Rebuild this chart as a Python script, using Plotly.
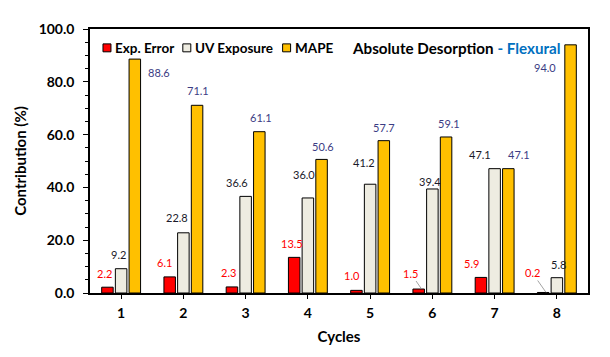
import plotly.graph_objects as go

cycles = ["1", "2", "3", "4", "5", "6", "7", "8"]
exp_error = [2.2, 6.1, 2.3, 13.5, 1.0, 1.5, 5.9, 0.2]
uv_exposure = [9.2, 22.8, 36.6, 36.0, 41.2, 39.4, 47.1, 5.8]
mape = [88.6, 71.1, 61.1, 50.6, 57.7, 59.1, 47.1, 94.0]

# label placement (pixel offsets from bar top-centre: dx, up)
exp_off = [(-3, 14), (-5, 14), (-3, 14), (-2, 14), (-4, 15), (-8, 16), (-9, 14), (-11, 20)]
exp_leader = [False, False, False, False, False, True, False, True]
uv_off = [(-3, 14), (-6, 15), (-9, 14), (-4, 23), (-6, 22), (-2, 7), (-15, 14), (2, 13)]
mape_off = [(24, -13), (1, 15), (2, 14), (1, 13), (0, 13), (3, 13), (11, 14), (-26, -23)]

FONT = "Lato, 'Open Sans', sans-serif"
SLOT = 13.8  # px between neighbouring bars in a group
OFF = 8      # page body margin of the html
W, H = 610 - OFF, 357 - OFF
L, R, T, B = 89 - OFF, 22, 27 - OFF, 64
PW, PH = W - L - R, H - T - B

series = [
    ("Exp. Error", exp_error, "#FF0000", exp_off, "#FF0000", -SLOT),
    ("UV Exposure", uv_exposure, "#EEECE1", uv_off, "#1a1a2a", 0),
    ("MAPE", mape, "#FFC000", mape_off, "#3c3c84", SLOT),
]
legend_px = [102, 182, 282]  # left edge of each legend swatch (page px)


def px_x(p):
    return (p - OFF - L) / PW


def px_y(p):
    return (H - B - (p - OFF)) / PH


fig = go.Figure()
annotations = []
shapes = []
for k, (name, vals, color, offs, lcolor, shift) in enumerate(series):
    fig.add_trace(go.Bar(x=cycles, y=vals, name=name, marker_color=color,
                         marker_line=dict(color="black", width=1)))
    for i, v in enumerate(vals):
        dx, up = offs[i]
        if name == "Exp. Error" and exp_leader[i]:
            annotations.append(dict(x=i, y=v, xshift=shift + 3, text=f"{v:.1f}",
                showarrow=True, arrowhead=0, arrowwidth=0.8, arrowcolor="#8c8c8c",
                ax=dx - 3, ay=-up, standoff=0,
                font=dict(family=FONT, size=11, color=lcolor)))
        else:
            annotations.append(dict(x=i, y=v, text=f"{v:.1f}", showarrow=False,
                xshift=shift + dx, yshift=up, yanchor="middle",
                font=dict(family=FONT, size=11, color=lcolor)))
    # hand-made compact legend entry
    lx = legend_px[k]
    shapes.append(dict(type="rect", xref="paper", yref="paper",
        x0=px_x(lx), x1=px_x(lx + 8), y0=px_y(50), y1=px_y(42),
        fillcolor=color, line=dict(color="black", width=1)))
    annotations.append(dict(xref="paper", yref="paper", x=px_x(lx + 10), y=px_y(46),
        xanchor="left", yanchor="middle", showarrow=False, text=f"<b>{name}</b>",
        font=dict(family=FONT, size=13.5, color="black")))

annotations.append(dict(xref="paper", yref="paper", x=px_x(563), y=px_y(46),
    xanchor="right", yanchor="middle", showarrow=False,
    text="<b>Absolute Desorption</b> <b><span style='color:#0070C0'>- Flexural</span></b>",
    font=dict(family=FONT, size=15.2, color="black")))

fig.update_layout(
    width=W, height=H,
    margin=dict(l=L, r=R, t=T, b=B),
    paper_bgcolor="white", plot_bgcolor="white",
    barmode="group", bargap=0.34, bargroupgap=0.16,
    font=dict(family=FONT, color="black"),
    showlegend=False,
    annotations=annotations, shapes=shapes,
)
fig.update_xaxes(
    type="category", showline=True, linecolor="black", linewidth=1.5, mirror=True,
    ticks="outside", ticklen=4, tickcolor="black",
    tickfont=dict(family=FONT, size=14, weight="bold"), ticklabelstandoff=2,
    title=dict(text="<b>Cycles</b>", font=dict(family=FONT, size=15), standoff=12),
)
fig.update_yaxes(
    range=[0, 100], dtick=20, tickformat=".1f", showgrid=False, zeroline=False,
    showline=True, linecolor="black", linewidth=1.5, mirror=True,
    ticks="outside", ticklen=5, tickcolor="black",
    minor=dict(dtick=5, ticks="outside", ticklen=3, tickcolor="black"),
    tickfont=dict(family=FONT, size=14, weight="bold"), ticklabelstandoff=6,
    title=dict(text="<b>Contribution (%)</b>", font=dict(family=FONT, size=15), standoff=8),
)

fig.write_html("out.html")
